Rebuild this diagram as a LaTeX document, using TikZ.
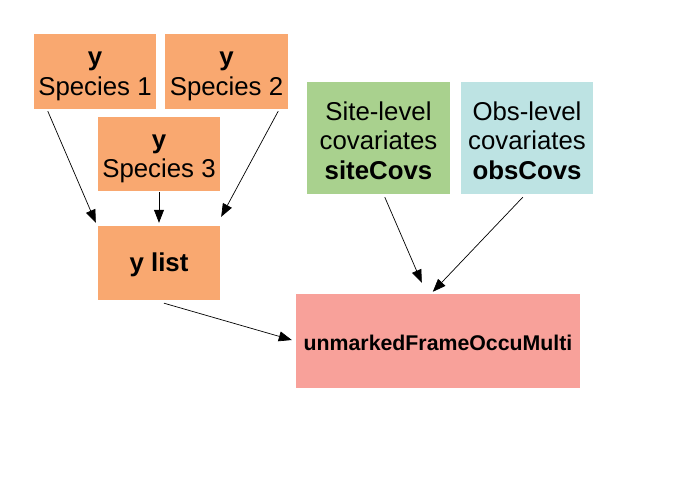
\documentclass[tikz,border=0pt]{standalone}
\usepackage{fontspec}
\setmainfont{Liberation Sans}
\usetikzlibrary{arrows.meta,calc}
\definecolor{orng}{RGB}{249,168,112}
\definecolor{grn}{RGB}{169,209,142}
\definecolor{cyn}{RGB}{189,227,227}
\definecolor{slmn}{RGB}{248,161,154}
\newcommand{\topstrut}{\rule{0pt}{0.905em}}
\tikzset{
  box/.style={rectangle, inner sep=0pt, align=center, font=\fontsize{25.8}{29.5}\selectfont},
  arr/.style={draw=black, line width=0.7pt, -{Triangle[length=13pt,width=10pt]}}
}
\begin{document}
\begin{tikzpicture}[x=1pt,y=-1pt]
\useasboundingbox[fill=white] (0,0) rectangle (688,484);
\node[box, fill=orng, minimum width=122pt, minimum height=75pt] (s1) at (95,71.5) {\topstrut\textbf{y}\\Species 1};
\node[box, fill=orng, minimum width=123pt, minimum height=75pt] (s2) at (226.5,71.5) {\topstrut\textbf{y}\\Species 2};
\node[box, fill=orng, minimum width=122pt, minimum height=74pt] (s3) at (159,154) {\topstrut\textbf{y}\\Species 3};
\node[box, fill=orng, minimum width=122pt, minimum height=74pt] (yl) at (159,263) {\topstrut\textbf{y list}};
\node[box, fill=grn, minimum width=143pt, minimum height=112pt] (site) at (378.5,138) {\topstrut Site-level\\covariates\\\textbf{siteCovs}};
\node[box, fill=cyn, minimum width=132pt, minimum height=112pt] (obs) at (527,138) {\topstrut Obs-level\\covariates\\\textbf{obsCovs}};
\node[box, fill=slmn, minimum width=284pt, minimum height=94pt, font=\fontsize{21.3}{25}\selectfont] (um) at (438,341) {\topstrut\textbf{unmarkedFrameOccuMulti}};
\draw[arr] ($(s1.south west)+(14,2)$) -- ($(yl.north west)+(-2,-3)$);
\draw[arr] ($(s3.south)+(0,1)$) -- ($(yl.north)+(0,-3)$);
\draw[arr] ($(s2.south east)+(-10,2)$) -- ($(yl.north east)+(1,-9)$);
\draw[arr] ($(site.south west)+(78,3)$) -- ($(um.north west)+(126,-11)$);
\draw[arr] ($(obs.south west)+(62,3)$) -- ($(um.north west)+(137,-2)$);
\draw[arr] ($(yl.south)+(5,3)$) -- ($(um.west)+(-4,-1)$);
\end{tikzpicture}
\end{document}
